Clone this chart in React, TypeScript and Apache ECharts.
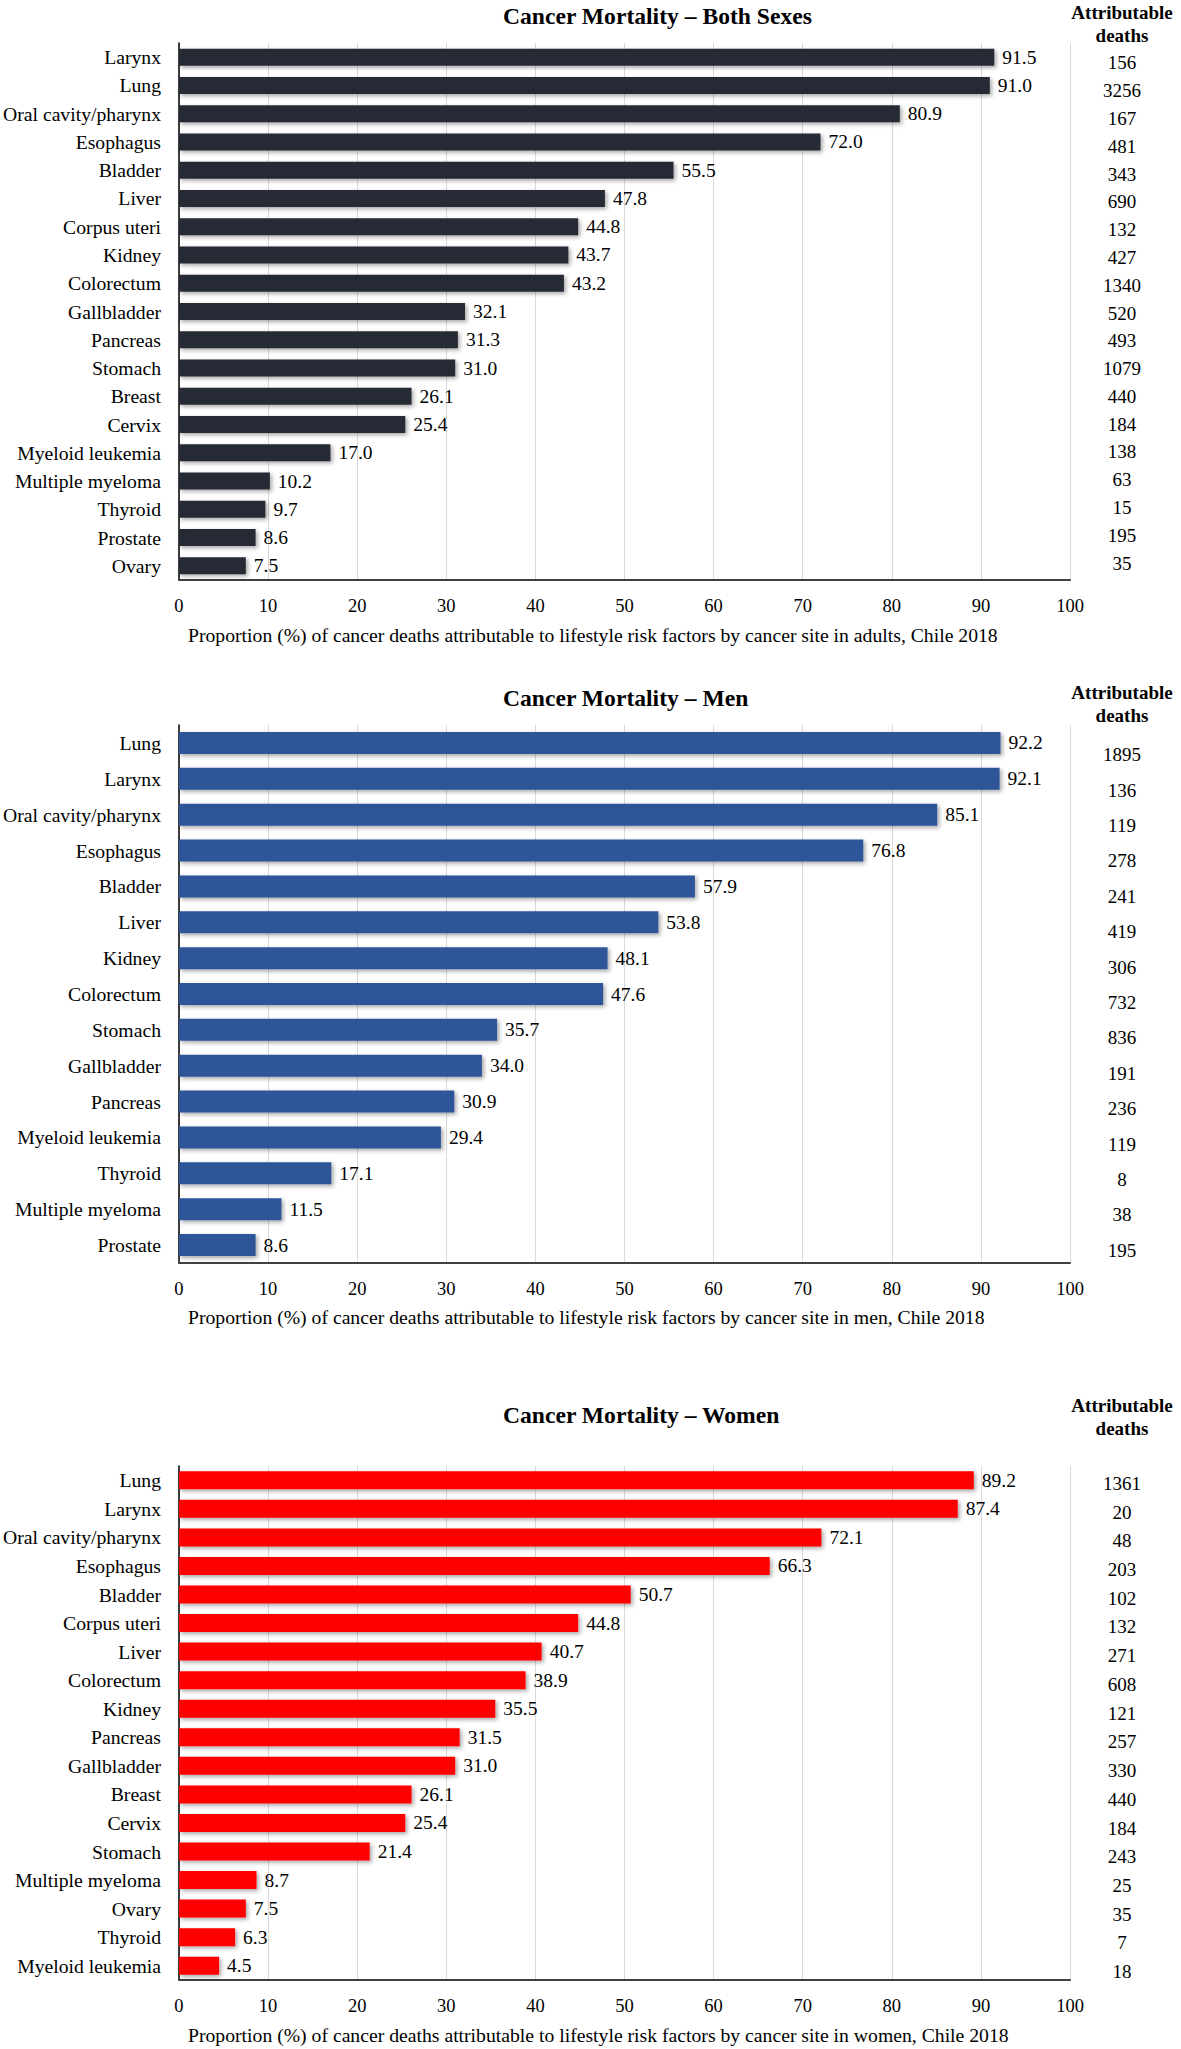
import React, { useEffect, useRef } from "react";
import * as echarts from "echarts";

// ---------- Data ----------
const bothCategories = [
  "Larynx", "Lung", "Oral cavity/pharynx", "Esophagus", "Bladder", "Liver",
  "Corpus uteri", "Kidney", "Colorectum", "Gallbladder", "Pancreas", "Stomach",
  "Breast", "Cervix", "Myeloid leukemia", "Multiple myeloma", "Thyroid",
  "Prostate", "Ovary",
];
const bothValues = [91.5, 91.0, 80.9, 72.0, 55.5, 47.8, 44.8, 43.7, 43.2, 32.1, 31.3, 31.0, 26.1, 25.4, 17.0, 10.2, 9.7, 8.6, 7.5];
const bothDeaths = ["156", "3256", "167", "481", "343", "690", "132", "427", "1340", "520", "493", "1079", "440", "184", "138", "63", "15", "195", "35"];

const menCategories = [
  "Lung", "Larynx", "Oral cavity/pharynx", "Esophagus", "Bladder", "Liver",
  "Kidney", "Colorectum", "Stomach", "Gallbladder", "Pancreas",
  "Myeloid leukemia", "Thyroid", "Multiple myeloma", "Prostate",
];
const menValues = [92.2, 92.1, 85.1, 76.8, 57.9, 53.8, 48.1, 47.6, 35.7, 34.0, 30.9, 29.4, 17.1, 11.5, 8.6];
const menDeaths = ["1895", "136", "119", "278", "241", "419", "306", "732", "836", "191", "236", "119", "8", "38", "195"];

const womenCategories = [
  "Lung", "Larynx", "Oral cavity/pharynx", "Esophagus", "Bladder",
  "Corpus uteri", "Liver", "Colorectum", "Kidney", "Pancreas", "Gallbladder",
  "Breast", "Cervix", "Stomach", "Multiple myeloma", "Ovary", "Thyroid",
  "Myeloid leukemia",
];
const womenValues = [89.2, 87.4, 72.1, 66.3, 50.7, 44.8, 40.7, 38.9, 35.5, 31.5, 31.0, 26.1, 25.4, 21.4, 8.7, 7.5, 6.3, 4.5];
const womenDeaths = ["1361", "20", "48", "203", "102", "132", "271", "608", "121", "257", "330", "440", "184", "243", "25", "35", "7", "18"];

const xTicks = [0, 10, 20, 30, 40, 50, 60, 70, 80, 90, 100];

const titles = [
  "Cancer Mortality \u2013 Both Sexes",
  "Cancer Mortality \u2013 Men",
  "Cancer Mortality \u2013 Women",
];
const axisNames = [
  "Proportion (%) of cancer deaths attributable to lifestyle risk factors by cancer site in adults, Chile 2018",
  "Proportion (%) of cancer deaths attributable to lifestyle risk factors by cancer site in men, Chile 2018",
  "Proportion (%) of cancer deaths attributable to lifestyle risk factors by cancer site in women, Chile 2018",
];
const deathsHeader = "Attributable\ndeaths";

// ---------- Layout ----------
const FONT = "'Times New Roman', 'Liberation Serif', serif";
const panels = [
  { cats: bothCategories, vals: bothValues, deaths: bothDeaths, color: "#262B36",
    top: 43, height: 537, barWidth: 17, dTop: 49, dHeight: 528,
    titleY: 18, headerY: 24, nameY: 635 },
  { cats: menCategories, vals: menValues, deaths: menDeaths, color: "#2F5597",
    top: 725, height: 538, barWidth: 22, dTop: 737, dHeight: 531,
    titleY: 700, headerY: 704, nameY: 1317 },
  { cats: womenCategories, vals: womenValues, deaths: womenDeaths, color: "#FF0000",
    top: 1466, height: 514, barWidth: 18, dTop: 1469, dHeight: 517,
    titleY: 1417, headerY: 1417, nameY: 2035 },
];

function buildOption() {
  const grid: any[] = [];
  const xAxis: any[] = [];
  const yAxis: any[] = [];
  const series: any[] = [];
  const graphic: any[] = [];

  panels.forEach((p, i) => {
    const gi = grid.length;
    grid.push({ left: 178, width: 892, top: p.top, height: p.height, containLabel: false });
    xAxis.push({
      gridIndex: gi, type: "value", min: xTicks[0], max: xTicks[xTicks.length - 1], interval: 10,
      axisLine: { show: true, lineStyle: { color: "#404040", width: 2 } },
      axisTick: { show: false },
      splitLine: { show: true, lineStyle: { color: "#D9D9D9", width: 1 } },
      axisLabel: { color: "#000", fontFamily: FONT, fontSize: 18.5, margin: 16 },
    });
    yAxis.push({
      gridIndex: gi, type: "category", inverse: true, data: p.cats,
      axisLine: { show: true, lineStyle: { color: "#000", width: 1.5 } },
      axisTick: { show: false },
      axisLabel: { color: "#000", fontFamily: FONT, fontSize: 19.7, margin: 18 },
    });
    series.push({
      type: "bar", xAxisIndex: gi, yAxisIndex: gi, data: p.vals, barWidth: p.barWidth,
      itemStyle: {
        color: p.color,
        shadowColor: "rgba(0,0,0,0.35)", shadowBlur: 4, shadowOffsetX: 2, shadowOffsetY: 2,
      },
      label: {
        show: true, position: "right", distance: 8, color: "#000",
        fontFamily: FONT, fontSize: 19.5,
        formatter: (d: any) => Number(d.value).toFixed(1),
      },
    });

    // deaths column
    const di = grid.length;
    grid.push({ left: 1122, width: 1, top: p.dTop, height: p.dHeight, containLabel: false });
    xAxis.push({ gridIndex: di, type: "value", show: false });
    yAxis.push({
      gridIndex: di, type: "category", inverse: true, data: p.deaths,
      axisLine: { show: false }, axisTick: { show: false }, splitLine: { show: false },
      axisLabel: { color: "#000", fontFamily: FONT, fontSize: 19, margin: 0, align: "center" },
    });

    graphic.push({
      type: "text", left: 503, top: p.titleY - 14,
      style: { text: titles[i], font: `bold 23.6px ${FONT}`, fill: "#000" },
    });
    graphic.push({
      type: "text", x: 1122, y: p.headerY,
      style: {
        text: deathsHeader, font: `bold 19px ${FONT}`, fill: "#000", lineHeight: 23,
        align: "center", verticalAlign: "middle", textAlign: "center", textVerticalAlign: "middle",
      },
    });
    graphic.push({
      type: "text", x: 188, y: p.nameY,
      style: {
        text: axisNames[i], font: `19.7px ${FONT}`, fill: "#000",
        align: "left", verticalAlign: "middle", textAlign: "left", textVerticalAlign: "middle",
      },
    });
  });

  return { animation: false, backgroundColor: "#fff", grid, xAxis, yAxis, series, graphic };
}

export default function App() {
  const ref = useRef<HTMLDivElement>(null);
  useEffect(() => {
    if (!ref.current) return;
    const chart = echarts.init(ref.current, undefined, { renderer: "svg" });
    chart.setOption(buildOption());
    return () => chart.dispose();
  }, []);
  return (
    <div
      ref={ref}
      style={{ position: "absolute", left: 0, top: 0, width: 1181, height: 2049, background: "#fff" }}
    />
  );
}
